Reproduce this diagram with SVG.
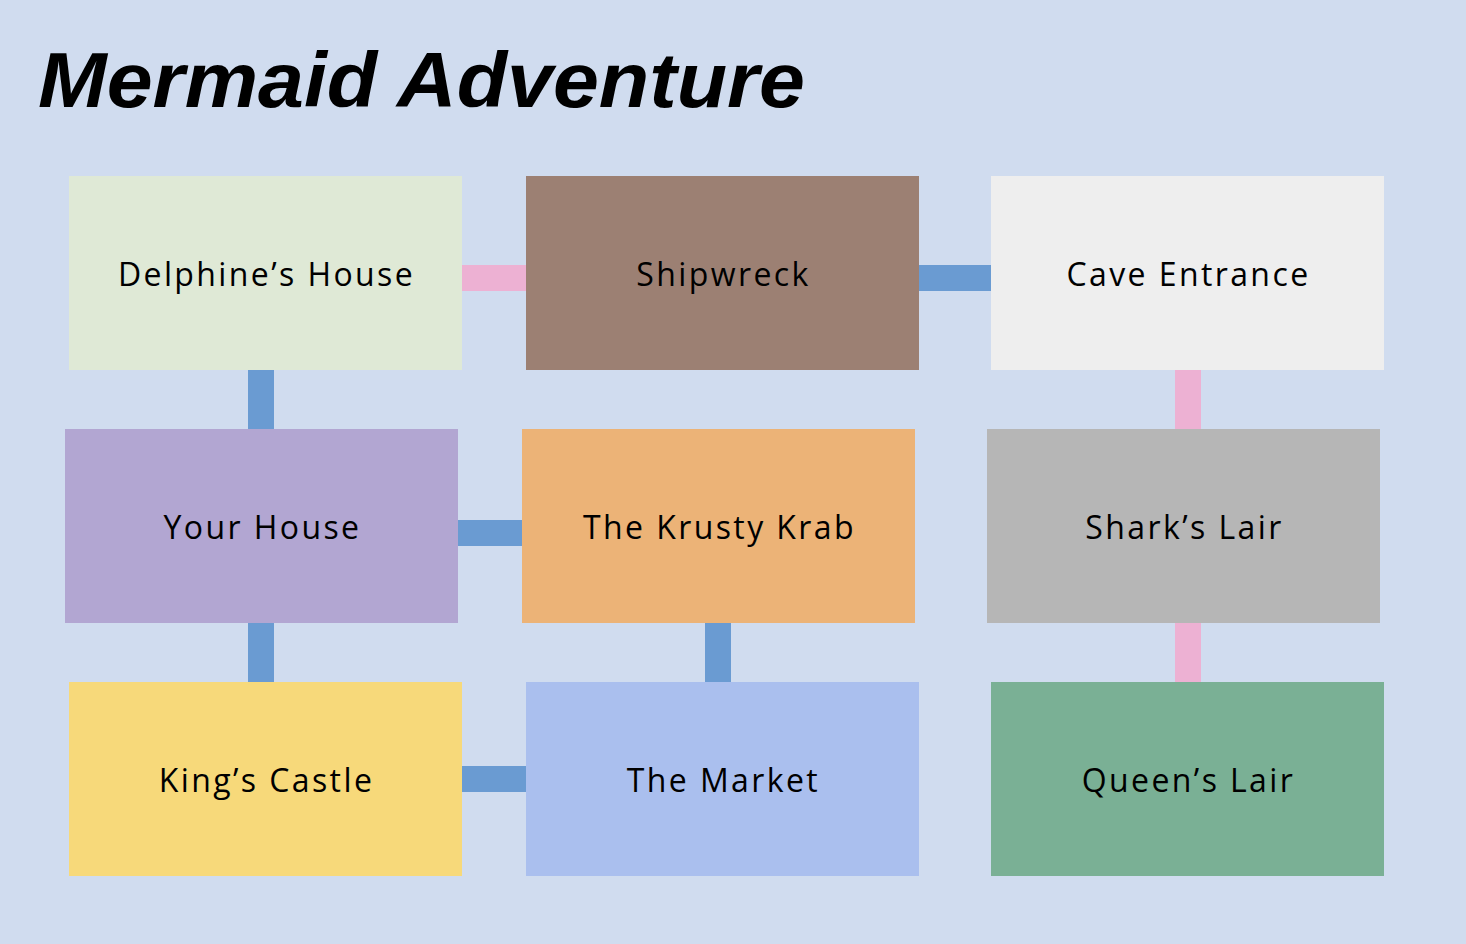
<svg xmlns="http://www.w3.org/2000/svg" width="1466" height="944" viewBox="0 0 1466 944">
<style>
.lbl{font-family:"Open Sans","Noto Sans","Liberation Sans",sans-serif;font-size:32px;letter-spacing:2.4px;fill:#000;text-anchor:middle;dominant-baseline:central}
.blue{fill:#6A9BD2}
.pink{fill:#EDB1D3}
</style>
<rect x="0" y="0" width="1466" height="944" fill="#D0DCEF"/>
<text x="38" y="107" font-family="Liberation Sans, Arial, sans-serif" font-weight="bold" font-style="italic" font-size="78" textLength="767" lengthAdjust="spacingAndGlyphs" fill="#000">Mermaid Adventure</text>
<g id="connectors">
<rect class="pink" x="460" y="265" width="68" height="26"/>
<rect class="blue" x="917" y="265" width="76" height="26"/>
<rect class="blue" x="248" y="368" width="26" height="62"/>
<rect class="pink" x="1175" y="368" width="26" height="62"/>
<rect class="blue" x="456" y="520" width="68" height="26"/>
<rect class="blue" x="248" y="621" width="26" height="62"/>
<rect class="blue" x="705" y="621" width="26" height="62"/>
<rect class="pink" x="1175" y="621" width="26" height="62"/>
<rect class="blue" x="460" y="766" width="68" height="26"/>
</g>
<g id="delphine"><rect x="69" y="176" width="393" height="194" fill="#DFE9D6"/><text class="lbl" x="266.5" y="273">Delphine’s House</text></g>
<g id="shipwreck"><rect x="526" y="176" width="393" height="194" fill="#9C8073"/><text class="lbl" x="723.5" y="273">Shipwreck</text></g>
<g id="cave"><rect x="991" y="176" width="393" height="194" fill="#EEEEEE"/><text class="lbl" x="1188.5" y="273">Cave Entrance</text></g>
<g id="yourhouse"><rect x="65" y="429" width="393" height="194" fill="#B2A6D2"/><text class="lbl" x="262.5" y="526">Your House</text></g>
<g id="krusty"><rect x="522" y="429" width="393" height="194" fill="#ECB377"/><text class="lbl" x="719.5" y="526">The Krusty Krab</text></g>
<g id="shark"><rect x="987" y="429" width="393" height="194" fill="#B6B6B6"/><text class="lbl" x="1184.5" y="526">Shark’s Lair</text></g>
<g id="king"><rect x="69" y="682" width="393" height="194" fill="#F7D97A"/><text class="lbl" x="266.5" y="779">King’s Castle</text></g>
<g id="market"><rect x="526" y="682" width="393" height="194" fill="#AABFEE"/><text class="lbl" x="723.5" y="779">The Market</text></g>
<g id="queen"><rect x="991" y="682" width="393" height="194" fill="#7AB095"/><text class="lbl" x="1188.5" y="779">Queen’s Lair</text></g>
</svg>
